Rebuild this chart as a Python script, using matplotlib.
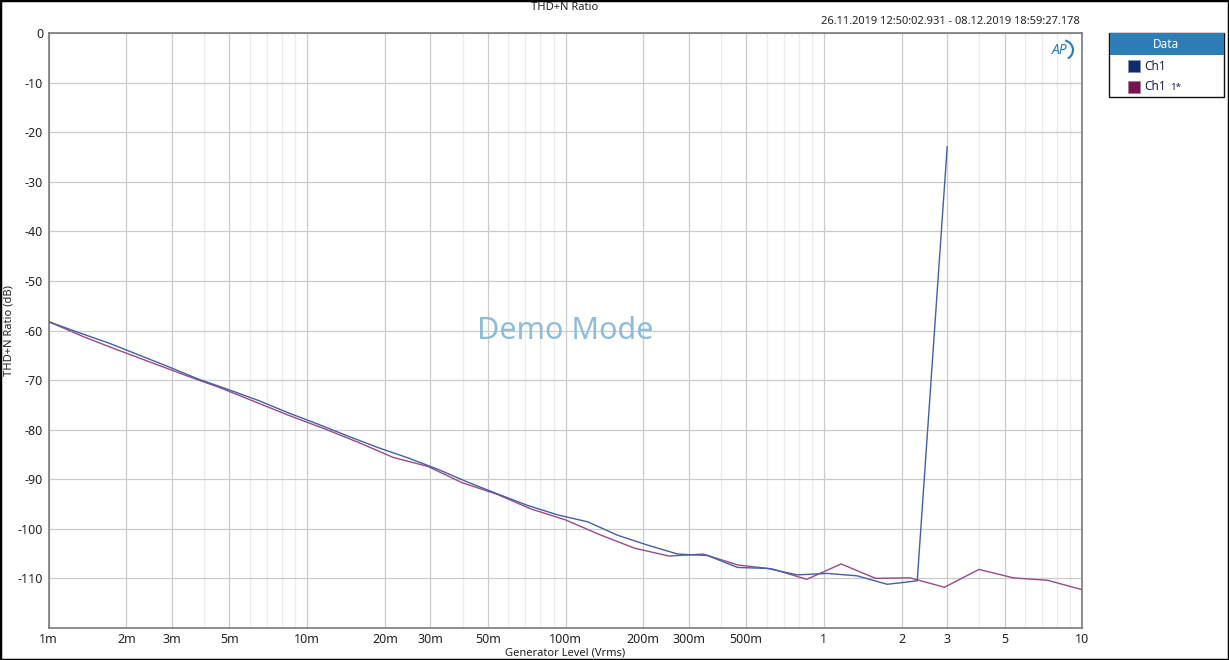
import matplotlib.pyplot as plt
from matplotlib.patches import Rectangle, Arc
from matplotlib.ticker import FixedLocator, NullFormatter

plt.rcParams['font.family'] = ['Noto Sans', 'DejaVu Sans']

# Ch1 sweep: 1m .. 3 Vrms
ch1_level = [0.001, 0.001306, 0.001706, 0.002228, 0.00291, 0.0038, 0.00496, 0.00648,
             0.00846, 0.01105, 0.0144, 0.0188, 0.0246, 0.0321, 0.0419, 0.0548, 0.0715,
             0.0934, 0.122, 0.159, 0.208, 0.272, 0.355, 0.463, 0.605, 0.79, 1.031,
             1.347, 1.759, 2.297, 3.0]
ch1_thdn = [-58.2, -60.4, -62.5, -64.9, -67.3, -69.8, -71.9, -74.1, -76.6, -78.9,
            -81.3, -83.6, -85.7, -88.0, -90.6, -93.0, -95.3, -97.2, -98.6, -101.3,
            -103.3, -105.1, -105.4, -107.8, -108.0, -109.3, -109.0, -109.5, -111.2,
            -110.5, -22.9]

# Ch1 1* sweep: 1m .. 10 Vrms
ch1b_level = [0.001, 0.001359, 0.001848, 0.002512, 0.003415, 0.004642, 0.00631, 0.008577,
              0.01166, 0.01585, 0.02154, 0.02929, 0.03981, 0.05412, 0.07356, 0.1, 0.1359,
              0.1848, 0.2512, 0.3415, 0.4642, 0.631, 0.8577, 1.166, 1.585, 2.154, 2.929,
              3.981, 5.412, 7.356, 10.0]
ch1b_thdn = [-58.2, -61.2, -63.9, -66.5, -69.1, -71.6, -74.4, -77.2, -79.8, -82.6,
             -85.6, -87.4, -90.7, -93.0, -96.0, -98.2, -101.2, -103.9, -105.5, -105.1,
             -107.3, -108.1, -110.2, -107.1, -110.0, -109.9, -111.8, -108.2, -109.9,
             -110.4, -112.3]

x_ticks = [0.001, 0.002, 0.003, 0.005, 0.01, 0.02, 0.03, 0.05, 0.1, 0.2, 0.3, 0.5,
           1, 2, 3, 5, 10]
x_labels = ['1m', '2m', '3m', '5m', '10m', '20m', '30m', '50m', '100m', '200m', '300m',
            '500m', '1', '2', '3', '5', '10']
x_minor = [m * d for d in [0.001, 0.01, 0.1, 1] for m in [4, 6, 7, 8, 9]]
y_ticks = [0, -10, -20, -30, -40, -50, -60, -70, -80, -90, -100, -110]

W, H = 1229, 660
fig = plt.figure(figsize=(W / 100, H / 100), dpi=100)
fig.patch.set_facecolor('white')

left, right, top, bottom = 48.7, 1082.3, 33.3, 627.9
ax = fig.add_axes([left / W, 1 - bottom / H, (right - left) / W, (bottom - top) / H])

ax.plot(ch1_level, ch1_thdn, color='#4260a6', lw=1.0, zorder=3)
ax.plot(ch1b_level, ch1b_thdn, color='#9a4a86', lw=1.0, zorder=2)

ax.set_xscale('log')
ax.set_xlim(0.001, 10)
ax.set_ylim(-120, 0)
ax.xaxis.set_major_locator(FixedLocator(x_ticks))
ax.set_xticklabels(x_labels)
ax.xaxis.set_minor_locator(FixedLocator(x_minor))
ax.xaxis.set_minor_formatter(NullFormatter())
ax.set_yticks(y_ticks)
ax.set_yticklabels([str(v) for v in y_ticks])
ax.grid(which='major', color='#cbcbcb', lw=0.9)
ax.grid(which='minor', axis='x', color='#ececec', lw=0.9)
ax.set_axisbelow(True)
ax.tick_params(which='both', length=0, labelsize=9, colors='#222222')
ax.tick_params(axis='x', pad=4)
ax.tick_params(axis='y', pad=4)
for s in ax.spines.values():
    s.set_color('#7a7a7a')
    s.set_linewidth(1.2)

ax.set_xlabel('Generator Level (Vrms)', fontsize=8, color='#222222', labelpad=1)
ax.set_ylabel('THD+N Ratio (dB)', fontsize=8, color='#222222', labelpad=2)

fig.text(565 / W, 1 - 8 / H, 'THD+N Ratio', ha='center', va='center', fontsize=8,
         color='#222222')
fig.text(1080 / W, 1 - 22 / H, '26.11.2019 12:50:02.931 - 08.12.2019 18:59:27.178',
         ha='right', va='center', fontsize=8, color='#222222')
ax.text(0.5, 0.5, 'Demo Mode', transform=ax.transAxes, ha='center', va='center',
        fontsize=22, color='#8fbdd9')

# AP logo
fig.text(1060 / W, 1 - 50 / H, 'AP', ha='center', va='center', fontsize=10,
         fontweight='bold', fontstyle='italic', color='#2b7bbb')
fig.add_artist(Arc((1062 / W, 1 - 50 / H), 22 / W, 20 / H, theta1=-70, theta2=80,
                   transform=fig.transFigure, color='#2b7bbb', lw=1.5))

# legend panel
fig.add_artist(Rectangle((1109 / W, 1 - 97 / H), 115 / W, 64 / H, transform=fig.transFigure,
                         facecolor='white', edgecolor='#111111', lw=1.0))
fig.add_artist(Rectangle((1109.5 / W, 1 - 55 / H), 114 / W, 21.5 / H, transform=fig.transFigure,
                         facecolor='#2e7db6', edgecolor='none'))
fig.text(1166 / W, 1 - 44 / H, 'Data', ha='center', va='center', fontsize=8.5,
         fontweight='bold', color='white')
fig.add_artist(Rectangle((1128 / W, 1 - 72 / H), 12 / W, 12 / H, transform=fig.transFigure,
                         facecolor='#0d2c6e', edgecolor='#8090b0', lw=0.6))
fig.text(1144 / W, 1 - 66 / H, 'Ch1', ha='left', va='center', fontsize=8.5, color='#1c1c4a')
fig.add_artist(Rectangle((1128 / W, 1 - 93 / H), 12 / W, 12 / H, transform=fig.transFigure,
                         facecolor='#7a1152', edgecolor='#a08090', lw=0.6))
fig.text(1144 / W, 1 - 87 / H, 'Ch1', ha='left', va='center', fontsize=8.5, color='#1c1c4a')
fig.text(1170 / W, 1 - 88 / H, '1*', ha='left', va='center', fontsize=7, color='#1c1c4a')

# outer frame
fig.add_artist(Rectangle((0, 0), 1, 1, transform=fig.transFigure, fill=False,
                         edgecolor='black', lw=2.5))

fig.savefig('out.png', dpi=100)
